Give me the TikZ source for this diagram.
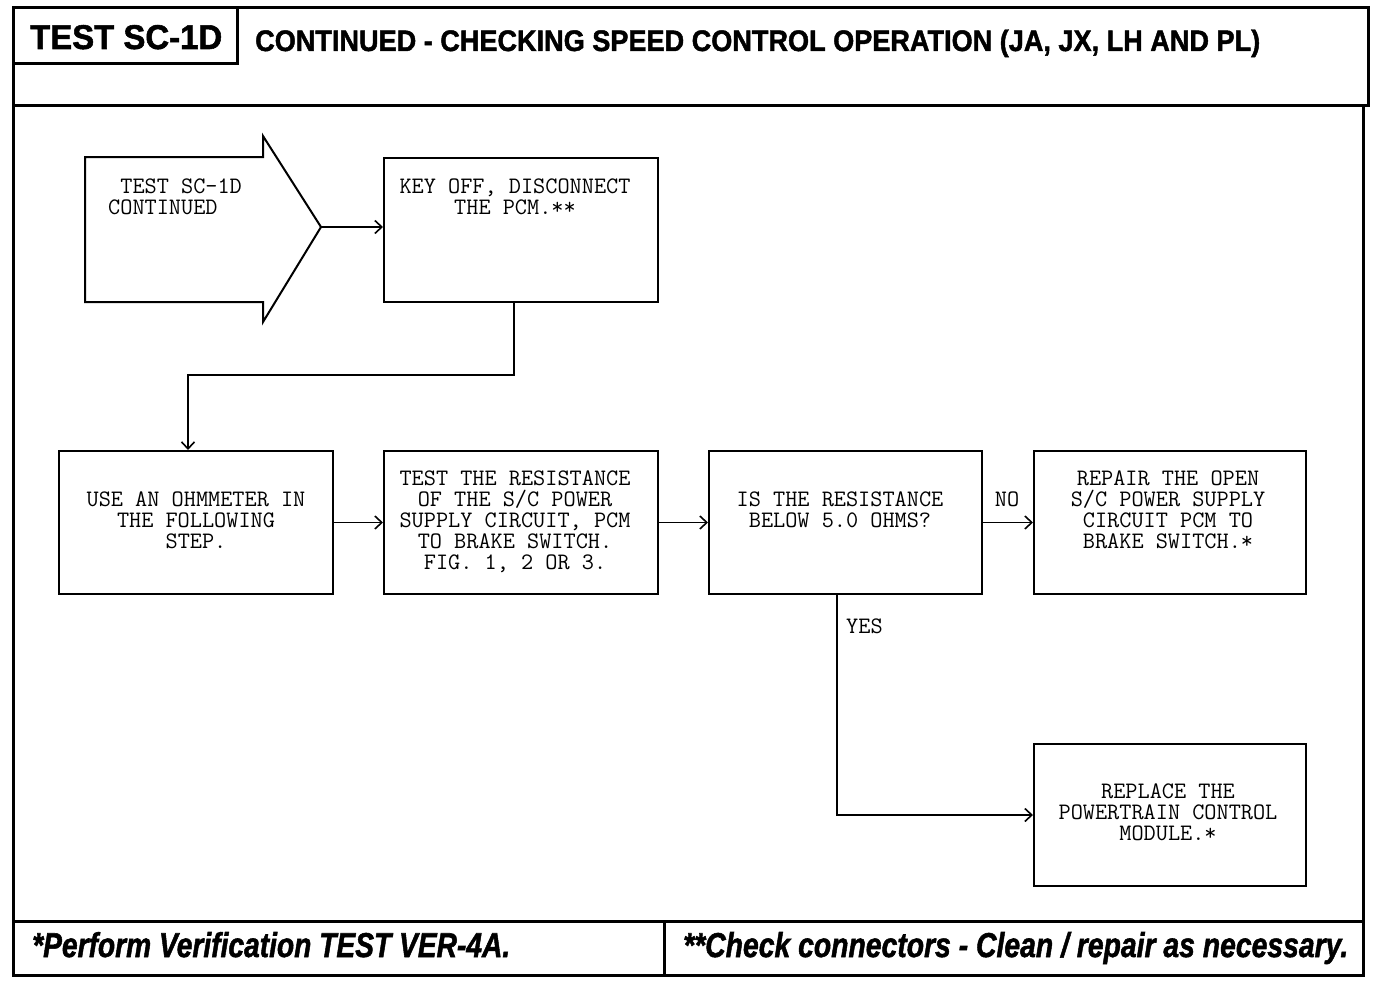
\documentclass[tikz,border=0pt]{standalone}
\usepackage{fontspec}
\usepackage{graphicx}
\usetikzlibrary{arrows.meta}
\newfontfamily\hdrf{Liberation Sans Bold}[FakeBold=1.6]
\newfontfamily\footf{Liberation Sans Bold Italic}[FakeBold=1.6]
\newcommand{\mtxt}{\ttfamily\addfontfeatures{FakeBold=1.8}\fontsize{23.6}{21}\selectfont}
\begin{document}
\begin{tikzpicture}[x=1pt,y=-1pt,
  frame/.style={line width=3pt,line cap=rect},
  box/.style={draw,line width=2pt,rectangle,inner sep=0pt},
  lbl/.style={inner sep=0pt,font=\mtxt,align=center,anchor=base},
  conn/.style={line width=1.7pt,-{Straight Barb[length=7pt,width=13pt,line width=1.6pt]}},
  seg/.style={line width=1.6pt}]
\useasboundingbox (0,0) rectangle (1392,982);
% frame
\draw[frame] (13,975) -- (13,8) -- (1368,8) -- (1368,105);
\draw[frame] (13,105) -- (1368,105);
\draw[frame] (237,8) -- (237,64) -- (13,64);
\draw[frame] (1363,108) -- (1363,975);
\draw[frame] (13,921) -- (1363,921);
\draw[frame] (13,975) -- (1363,975);
\draw[frame] (664,921) -- (664,975);
% header texts
\node[inner sep=0pt,anchor=base west] (hdr) at (30,49) {\resizebox{192pt}{24pt}{\hdrf TEST SC-1D}};
\node[inner sep=0pt,anchor=base west] (title) at (255,51) {\resizebox{1005pt}{21.5pt}{\hdrf CONTINUED - CHECKING SPEED CONTROL OPERATION (JA, JX, LH AND PL)}};
\node[inner sep=0pt,anchor=base west] (foot1) at (32,957) {\resizebox{478pt}{25pt}{\footf *Perform Verification TEST VER-4A.}};
\node[inner sep=0pt,anchor=base west] (foot2) at (683,957) {\resizebox{665pt}{25pt}{\footf **Check connectors - Clean / repair as necessary.}};
% start arrow
\draw[line width=2pt,line join=miter] (85,157) -- (263,157) -- (263,136) -- (321,227) -- (263,322) -- (263,302) -- (85,302) -- cycle;
\coordinate (tip) at (321,227);
\node[lbl,anchor=base west,align=left] (t0) at (108,214) {\ TEST SC-1D\\CONTINUED};
% boxes
\node[box,minimum width=274pt,minimum height=144pt] (b1) at (521,230) {};
\node[box,minimum width=274pt,minimum height=143pt] (b2) at (196,522.5) {};
\node[box,minimum width=274pt,minimum height=143pt] (b3) at (521,522.5) {};
\node[box,minimum width=273pt,minimum height=143pt] (b4) at (845.5,522.5) {};
\node[box,minimum width=272pt,minimum height=143pt] (b5) at (1170,522.5) {};
\node[box,minimum width=272pt,minimum height=142pt] (b6) at (1170,815) {};
% box texts (base = last line)
\node[lbl] (t1) at (515,214) {KEY OFF, DISCONNECT\\THE PCM.**};
\node[lbl] (t2) at (196,548) {USE AN OHMMETER IN\\THE FOLLOWING\\STEP.};
\node[lbl] (t3) at (515,569) {TEST THE RESISTANCE\\OF THE S/C POWER\\SUPPLY CIRCUIT, PCM\\TO BRAKE SWITCH.\\FIG. 1, 2 OR 3.};
\node[lbl] (t4) at (840,527) {IS THE RESISTANCE\\BELOW 5.0 OHMS?};
\node[lbl] (t5) at (1168,548) {REPAIR THE OPEN\\S/C POWER SUPPLY\\CIRCUIT PCM TO\\BRAKE SWITCH.*};
\node[lbl] (t6) at (1168,840) {REPLACE THE\\POWERTRAIN CONTROL\\MODULE.*};
\node[lbl] (no) at (1007,506) {NO};
\node[lbl,anchor=base west] (yes) at (846,633) {YES};
% connectors
\draw[conn] (tip) -- (tip -| b1.west);
\coordinate (bend) at (188,375);
\draw[conn] ([xshift=-7pt]b1.south) |- (bend) -- (bend |- b2.north);
\draw[conn] (b2.east) -- (b3.west);
\draw[conn] (b3.east) -- (b4.west);
\draw[conn] (b4.east) -- (b5.west);
\draw[conn] ([xshift=-8.5pt]b4.south) |- (b6.west);
\end{tikzpicture}
\end{document}
